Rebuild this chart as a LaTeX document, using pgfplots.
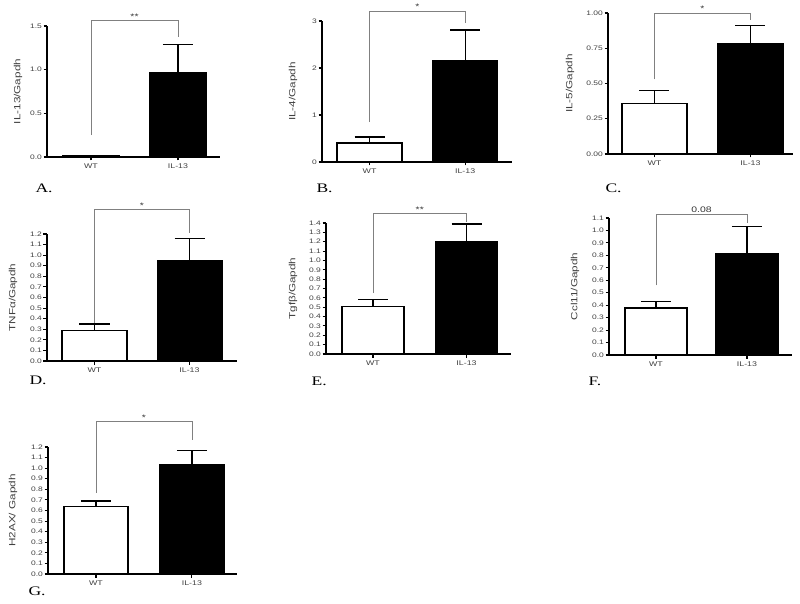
\documentclass[border=0pt]{standalone}
\usepackage{pgfplots}
\pgfplotsset{compat=1.18}
\usepackage{fontspec}
\setmainfont{Liberation Serif}
\setsansfont[FakeStretch=1.3]{Liberation Sans}
\newfontfamily\letterfont[FakeStretch=1.35]{Liberation Serif}
\tikzset{sigstar/.style={font=\sffamily\fontsize{8}{9}\selectfont, text=black!80, above, inner sep=1pt}}
\begin{document}
\begin{tikzpicture}[x=1pt,y=1pt]
\useasboundingbox (0,0) rectangle (800,603);
\pgfplotsset{
 prism/.style={
  scale only axis, clip=false, anchor=south west,
  axis x line*=bottom, axis y line*=left,
  axis line style={line width=1.4pt,-},
  ymin=0, xtick={0,1}, xticklabels={WT,IL-13},
  ybar, bar shift=0pt,
  tick style={line width=1.1pt, black},
  major tick length=3.5pt,
  tick align=outside,
  yticklabel style={font=\sffamily\fontsize{6.5}{7}\selectfont, text=black!75, inner sep=1.5pt},
  xticklabel style={font=\sffamily\fontsize{6.8}{8}\selectfont, text=black!75},
  label style={font=\sffamily\fontsize{9}{10}\selectfont, text=black!75},
  /pgf/number format/assume math mode=true,
  /pgf/number format/fixed, /pgf/number format/fixed zerofill,
 },
 wtbar/.style={fill=white, draw=black, line width=1.4pt, bar width=#1,
  /pgfplots/error bars/y dir=plus, /pgfplots/error bars/y explicit,
  /pgfplots/error bars/error bar style={line width=1.3pt,black},
  /pgfplots/error bars/error mark options={rotate=90, mark size=15pt, line width=1.3pt, black}},
 ilbar/.style={fill=black, draw=black, line width=1.4pt, bar width=#1,
  /pgfplots/error bars/y dir=plus, /pgfplots/error bars/y explicit,
  /pgfplots/error bars/error bar style={line width=1.3pt,black},
  /pgfplots/error bars/error mark options={rotate=90, mark size=15pt, line width=1.3pt, black}},
 bracket/.style={sharp plot, no marks, draw=gray, line width=0.8pt, forget plot},
}
% A
\begin{axis}[prism, at={(47pt,446pt)}, width=173pt, height=131pt, xmin=-0.506, xmax=1.483, ymax=1.5,
  ytick={0,0.5,1,1.5}, /pgf/number format/precision=1, ylabel={IL-13/Gapdh},
  ylabel style={at={(axis description cs:-0.168,0.5)}, anchor=center}]
\addplot[wtbar=0.65] coordinates {(0,0.012) +- (0,0)};
\addplot[ilbar=0.65] coordinates {(1,0.97) +- (0,0.32)};
\addplot[bracket] coordinates {(0,0.25) (0,1.56) (1,1.56) (1,1.37)};
\node[sigstar] at (axis cs:0.5,1.56) {**};
\end{axis}
% B
\begin{axis}[prism, at={(322pt,441pt)}, width=190pt, height=141pt, xmin=-0.497, xmax=1.49, ymax=3,
  ytick={0,1,2,3}, /pgf/number format/precision=0, ylabel={IL-4/Gapdh},
  ylabel style={at={(axis description cs:-0.153,0.5)}, anchor=center}]
\addplot[wtbar=0.68] coordinates {(0,0.40) +- (0,0.13)};
\addplot[ilbar=0.68] coordinates {(1,2.15) +- (0,0.66)};
\addplot[bracket] coordinates {(0,0.85) (0,3.21) (1,3.21) (1,2.96)};
\node[sigstar] at (axis cs:0.5,3.21) {*};
\end{axis}
% C
\begin{axis}[prism, at={(608pt,449pt)}, width=185pt, height=141pt, xmin=-0.484, xmax=1.443, ymax=1,
  ytick={0,0.25,0.5,0.75,1}, /pgf/number format/precision=2, ylabel={IL-5/Gapdh},
  ylabel style={at={(axis description cs:-0.205,0.5)}, anchor=center}]
\addplot[wtbar=0.68] coordinates {(0,0.36) +- (0,0.09)};
\addplot[ilbar=0.68] coordinates {(1,0.78) +- (0,0.13)};
\addplot[bracket] coordinates {(0,0.53) (0,1.0) (1,1.0) (1,0.95)};
\node[sigstar] at (axis cs:0.5,1.0) {*};
\end{axis}
% D
\begin{axis}[prism, at={(47pt,242pt)}, width=190pt, height=127pt, xmin=-0.5, xmax=1.5, ymax=1.2,
  ytick={0,0.1,0.2,0.3,0.4,0.5,0.6,0.7,0.8,0.9,1.0,1.1,1.2}, /pgf/number format/precision=1, ylabel={TNFα/Gapdh},
  ylabel style={at={(axis description cs:-0.179,0.5)}, anchor=center}]
\addplot[wtbar=0.68] coordinates {(0,0.29) +- (0,0.06)};
\addplot[ilbar=0.68] coordinates {(1,0.945) +- (0,0.215)};
\addplot[bracket] coordinates {(0,0.36) (0,1.43) (1,1.43) (1,1.21)};
\node[sigstar] at (axis cs:0.5,1.43) {*};
\end{axis}
% E
\begin{axis}[prism, at={(326pt,249pt)}, width=185pt, height=131pt, xmin=-0.503, xmax=1.476, ymax=1.4,
  ytick={0,0.1,0.2,0.3,0.4,0.5,0.6,0.7,0.8,0.9,1.0,1.1,1.2,1.3,1.4}, /pgf/number format/precision=1, ylabel={Tgfβ/Gapdh},
  ylabel style={at={(axis description cs:-0.178,0.5)}, anchor=center}]
\addplot[wtbar=0.66] coordinates {(0,0.51) +- (0,0.07)};
\addplot[ilbar=0.66] coordinates {(1,1.20) +- (0,0.19)};
\addplot[bracket] coordinates {(0,0.65) (0,1.50) (1,1.50) (1,1.41)};
\node[sigstar] at (axis cs:0.5,1.50) {**};
\end{axis}
% F
\begin{axis}[prism, at={(609pt,248pt)}, width=183pt, height=137pt, xmin=-0.516, xmax=1.495, ymax=1.1,
  ytick={0,0.1,0.2,0.3,0.4,0.5,0.6,0.7,0.8,0.9,1.0,1.1}, /pgf/number format/precision=1, ylabel={Ccl11/Gapdh},
  ylabel style={at={(axis description cs:-0.186,0.5)}, anchor=center}]
\addplot[wtbar=0.68] coordinates {(0,0.377) +- (0,0.053)};
\addplot[ilbar=0.68] coordinates {(1,0.81) +- (0,0.22)};
\addplot[bracket] coordinates {(0,0.56) (0,1.13) (1,1.13) (1,1.06)};
\node[sigstar] at (axis cs:0.5,1.13) {0.08};
\end{axis}
% G
\begin{axis}[prism, at={(48pt,29pt)}, width=189pt, height=127pt, xmin=-0.5, xmax=1.47, ymax=1.2,
  ytick={0,0.1,0.2,0.3,0.4,0.5,0.6,0.7,0.8,0.9,1.0,1.1,1.2}, /pgf/number format/precision=1, ylabel={H2AX/ Gapdh},
  ylabel style={at={(axis description cs:-0.185,0.5)}, anchor=center}]
\addplot[wtbar=0.67] coordinates {(0,0.64) +- (0,0.05)};
\addplot[ilbar=0.67] coordinates {(1,1.03) +- (0,0.14)};
\addplot[bracket] coordinates {(0,0.77) (0,1.44) (1,1.44) (1,1.27)};
\node[sigstar] at (axis cs:0.5,1.44) {*};
\end{axis}
% panel letters
\begin{scope}[every node/.style={anchor=base west, font=\letterfont\fontsize{13}{15}\selectfont}]
\node at (32,410) {A.};
\node at (313,410) {B.};
\node at (602,410) {C.};
\node at (26,219) {D.};
\node at (308,218) {E.};
\node at (585,218) {F.};
\node at (25,8) {G.};
\end{scope}
\end{tikzpicture}
\end{document}
